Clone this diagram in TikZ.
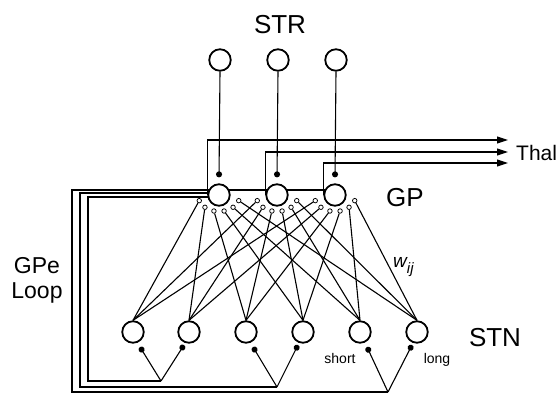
\documentclass[tikz,border=0pt]{standalone}
\usepackage{fontspec}
\setmainfont{Liberation Sans}
\usetikzlibrary{arrows.meta,calc,backgrounds}
\begin{document}
\begin{tikzpicture}[x=1pt,y=-1pt,
  neuron/.style={circle,draw,line width=1.8pt,minimum size=21.5pt,inner sep=0pt,fill=white},
  syn/.style={circle,draw,line width=0.75pt,minimum size=4.5pt,inner sep=0pt,fill=white},
  conn/.style={line width=1.1pt},
  dotend/.style={conn,-{Circle[length=6pt]}},
  thalarrow/.style={conn,-{Triangle[length=11pt,width=7pt]}},
  lbl/.style={anchor=base,inner sep=0pt,font=\fontsize{26}{26}\selectfont},
  mlbl/.style={anchor=base,inner sep=0pt,font=\fontsize{23}{23}\selectfont},
  slbl/.style={anchor=base,inner sep=0pt,font=\fontsize{14}{14}\selectfont}
]
\useasboundingbox (0,0) rectangle (560,394);

% neurons
\foreach \i/\x in {1/220,2/278,3/336} \node[neuron] (str\i) at (\x,60) {};
\foreach \i/\x in {1/219,2/277,3/335} \node[neuron] (gp\i) at (\x,195) {};
\foreach \j/\x in {1/133,2/189,3/246,4/303,5/360,6/417} \node[neuron] (stn\j) at (\x,332) {};

% synapse circles on GP
\foreach \i in {1,2,3}
  \foreach \j/\a in {1/200,2/228,3/256,4/284,5/312,6/340}
    \node[syn] (s\i\j) at ($(gp\i)+({21*cos(\a)},{-16.5*sin(\a)})$) {};

% GP -> STN projections
\foreach \i in {1,2,3}
  \foreach \j in {1,...,6}
    \draw[conn] (s\i\j) -- (stn\j.north);

% STR -> GP
\foreach \i in {1,2,3}
  \draw[dotend] (str\i.south) -- ($(gp\i.north)+(0,-6)$);

% GP -> Thal
\coordinate (t1) at (508,140);
\coordinate (t2) at (508,152);
\coordinate (t3) at (508,163);
\foreach \i in {1,2,3}
  \draw[thalarrow] (gp\i.west) |- (t\i);

% STN feedback junctions
\coordinate (j1) at (161,381);
\coordinate (j2) at (277,387);
\coordinate (j3) at (388,392);
\draw[dotend] (j1) -- ($(stn1)+(7,15)$);
\draw[dotend] (j1) -- ($(stn2)+(-5,13)$);
\draw[dotend] (j2) -- ($(stn3)+(7,15)$);
\draw[dotend] (j2) -- ($(stn4)+(-5,13)$);
\draw[dotend] (j3) -- ($(stn5)+(7,15)$);
\draw[dotend] (j3) -- ($(stn6)+(-5,13)$);

% GPe loop
\begin{pgfonlayer}{background}
  \draw[conn] ($(gp1)+(0,2)$) -- (88,197) |- (j1);
  \draw[conn] ($(gp1)+(0,-2)$) -- (80,193) |- (j2);
  \draw[conn] ($(gp3)+(0,-5)$) -- (72,190) |- (j3);
\end{pgfonlayer}

% labels
\node[lbl] (strl) at (280,33) {STR};
\node[lbl] (gpl) at (405,206) {GP};
\node[lbl] (stnl) at (495,346) {STN};
\node[anchor=base west,inner sep=0pt,font=\fontsize{21}{21}\selectfont] (thall) at (516,160) {Thal};
\node[mlbl] (gpel) at (37,273) {GPe};
\node[mlbl] (loopl) at (37,298) {Loop};
\node[slbl] (shortl) at (340,363) {short};
\node[slbl] (longl) at (437,363) {long};
\node[anchor=base west,inner sep=0pt,font=\fontsize{19}{19}\itshape] (wl) at (393,267) {w\raisebox{-6pt}{\fontsize{15}{15}\selectfont\itshape ij}};
\end{tikzpicture}
\end{document}
